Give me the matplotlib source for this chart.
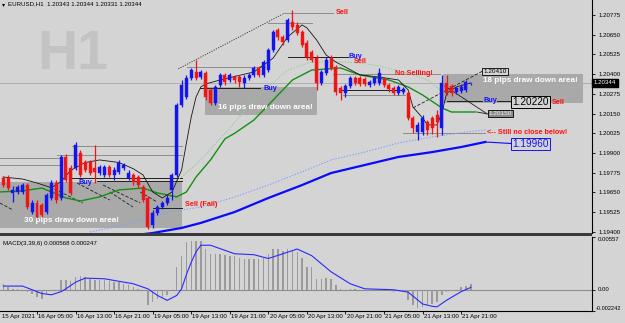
import matplotlib
matplotlib.use("Agg")
import matplotlib.pyplot as plt
from matplotlib.patches import Rectangle
import matplotlib.transforms as mtrans

# ---------------- data ----------------
bars = list(range(-7, 91))
opens = [1.19742, 1.19742, 1.19647, 1.19653, 1.19653, 1.19697, 1.19526, 1.19583, 1.19571, 1.19526,
         1.19615, 1.19710, 1.19615, 1.19875, 1.19805, 1.19805, 1.19900, 1.19843, 1.19843, 1.19805,
         1.19773, 1.19761, 1.19811, 1.19761, 1.19780, 1.19805, 1.19742, 1.19761, 1.19748, 1.19685,
         1.19615, 1.19444, 1.19520, 1.19558, 1.19583, 1.19666, 1.19761, 1.20204, 1.20255, 1.20376,
         1.20414, 1.20382, 1.20407, 1.20300, 1.20217, 1.20331, 1.20395, 1.20363, 1.20382, 1.20382,
         1.20344, 1.20376, 1.20395, 1.20439, 1.20395, 1.20426, 1.20553, 1.20680, 1.20636, 1.20617,
         1.20731, 1.20712, 1.20667, 1.20597, 1.20540, 1.20502, 1.20344, 1.20407, 1.20502, 1.20445,
         1.20312, 1.20280, 1.20325, 1.20376, 1.20376, 1.20369, 1.20331, 1.20344, 1.20344, 1.20369,
         1.20331, 1.20312, 1.20280, 1.20287, 1.20280, 1.20122, 1.20033, 1.20033, 1.20097, 1.20122,
         1.20141, 1.20059, 1.20344, 1.20325, 1.20287, 1.20293, 1.20300, 1.20343]
highs = [1.19754, 1.19761, 1.19691, 1.19697, 1.19710, 1.19710, 1.19602, 1.19602, 1.19583, 1.19647,
         1.19729, 1.19729, 1.19887, 1.19894, 1.19824, 1.19970, 1.19919, 1.19856, 1.19856, 1.19951,
         1.19824, 1.19824, 1.19824, 1.19811, 1.19856, 1.19837, 1.19792, 1.19773, 1.19761, 1.19697,
         1.19628, 1.19539, 1.19571, 1.19596, 1.19634, 1.19773, 1.20217, 1.20363, 1.20395, 1.20439,
         1.20490, 1.20426, 1.20420, 1.20312, 1.20331, 1.20407, 1.20407, 1.20407, 1.20395, 1.20395,
         1.20395, 1.20407, 1.20452, 1.20452, 1.20490, 1.20566, 1.20680, 1.20693, 1.20648, 1.20756,
         1.20807, 1.20731, 1.20680, 1.20617, 1.20553, 1.20521, 1.20426, 1.20509, 1.20521, 1.20458,
         1.20325, 1.20338, 1.20388, 1.20388, 1.20388, 1.20382, 1.20363, 1.20388, 1.20439, 1.20382,
         1.20344, 1.20325, 1.20331, 1.20319, 1.20293, 1.20135, 1.20097, 1.20141, 1.20109, 1.20135,
         1.20173, 1.20395, 1.20395, 1.20338, 1.20319, 1.20338, 1.20363, 1.20344]
lows = [1.19685, 1.19666, 1.19590, 1.19640, 1.19640, 1.19545, 1.19514, 1.19482, 1.19495, 1.19514,
        1.19602, 1.19583, 1.19602, 1.19716, 1.19634, 1.19792, 1.19748, 1.19780, 1.19761, 1.19710,
        1.19761, 1.19748, 1.19748, 1.19729, 1.19767, 1.19792, 1.19729, 1.19697, 1.19678, 1.19590,
        1.19419, 1.19425, 1.19507, 1.19545, 1.19571, 1.19602, 1.19748, 1.20192, 1.20242, 1.20363,
        1.20363, 1.20369, 1.20236, 1.20204, 1.20204, 1.20319, 1.20331, 1.20350, 1.20344, 1.20319,
        1.20312, 1.20363, 1.20382, 1.20382, 1.20382, 1.20414, 1.20540, 1.20617, 1.20585, 1.20604,
        1.20680, 1.20648, 1.20572, 1.20490, 1.20477, 1.20300, 1.20331, 1.20395, 1.20426, 1.20268,
        1.20236, 1.20255, 1.20312, 1.20331, 1.20325, 1.20325, 1.20319, 1.20331, 1.20331, 1.20319,
        1.20287, 1.20268, 1.20268, 1.20274, 1.20109, 1.20027, 1.19983, 1.20014, 1.20014, 1.20021,
        1.20002, 1.20014, 1.20268, 1.20261, 1.20274, 1.20280, 1.20287, 1.20331]
closes = [1.19697, 1.19678, 1.19666, 1.19685, 1.19697, 1.19558, 1.19583, 1.19495, 1.19507, 1.19634,
          1.19710, 1.19602, 1.19875, 1.19729, 1.19647, 1.19951, 1.19761, 1.19792, 1.19773, 1.19780,
          1.19811, 1.19811, 1.19761, 1.19792, 1.19837, 1.19824, 1.19773, 1.19716, 1.19697, 1.19602,
          1.19431, 1.19520, 1.19558, 1.19583, 1.19615, 1.19761, 1.20204, 1.20331, 1.20376, 1.20426,
          1.20376, 1.20414, 1.20255, 1.20217, 1.20319, 1.20395, 1.20350, 1.20395, 1.20363, 1.20350,
          1.20376, 1.20395, 1.20439, 1.20395, 1.20477, 1.20553, 1.20667, 1.20636, 1.20604, 1.20743,
          1.20699, 1.20661, 1.20585, 1.20509, 1.20490, 1.20344, 1.20414, 1.20490, 1.20439, 1.20287,
          1.20280, 1.20325, 1.20376, 1.20344, 1.20338, 1.20338, 1.20350, 1.20376, 1.20407, 1.20331,
          1.20306, 1.20280, 1.20319, 1.20306, 1.20122, 1.20059, 1.20078, 1.20122, 1.20046, 1.20059,
          1.20097, 1.20344, 1.20280, 1.20280, 1.20312, 1.20319, 1.20350, 1.20344]

ma_black_bars = [-7, -3, 0, 3, 5, 7, 10, 13, 17, 20, 22, 24, 26, 28, 30, 31, 32, 33, 34, 35, 38, 45,
                 49, 52, 55, 56, 58, 60, 62, 64, 67, 71, 75, 77, 78, 80, 81, 83, 84, 85, 87, 90]
ma_black = [1.19748, 1.19735, 1.19710, 1.19680, 1.19720, 1.19790, 1.19840, 1.19856, 1.19840, 1.19800,
            1.19761, 1.19653, 1.19615, 1.19653, 1.19792, 1.19964, 1.20128, 1.20255, 1.20319, 1.20338,
            1.20363, 1.20414, 1.20502, 1.20636, 1.20712, 1.20693, 1.20617, 1.20521, 1.20477, 1.20445,
            1.20395, 1.20382, 1.20363, 1.20300, 1.20192, 1.20122, 1.20078, 1.20078, 1.20154, 1.20280,
            1.20319, 1.20344]
ma_green_bars = [-8, -3, 1, 3, 6, 9, 13, 17, 22, 25, 29, 31, 33, 36, 39, 41, 45, 49, 53, 57, 63, 67,
                 73, 77, 80, 84, 86, 91]
ma_green = [1.19653, 1.19660, 1.19678, 1.19653, 1.19615, 1.19596, 1.19622, 1.19666, 1.19678, 1.19647,
            1.19622, 1.19653, 1.19748, 1.19856, 1.19990, 1.20025, 1.20109, 1.20236, 1.20363, 1.20426,
            1.20439, 1.20395, 1.20363, 1.20319, 1.20268, 1.20186, 1.20160, 1.20160]
ma_blue_bars = [19, 24, 30, 34, 41, 48, 55, 61, 68, 75, 82, 88, 93]
ma_blue = [1.19374, 1.19393, 1.19425, 1.19457, 1.19526, 1.19615, 1.19697, 1.19773, 1.19824, 1.19875,
           1.19906, 1.19938, 1.19970]
dot_blue_bars = [11, 17, 25, 30, 34, 41, 48, 57, 61, 68, 75, 82, 89, 93]
dot_blue = [1.19399, 1.19437, 1.19507, 1.19539, 1.19558, 1.19621, 1.19697, 1.19805, 1.19856, 1.19906,
            1.19964, 1.20002, 1.20033, 1.20046]
dot_green_bars = [28, 30, 34, 40, 44, 48, 52, 57, 63, 67, 71, 77, 81, 85]
dot_green = [1.19700, 1.19748, 1.19856, 1.20059, 1.20204, 1.20319, 1.20426, 1.20477, 1.20477, 1.20471,
             1.20452, 1.20407, 1.20363, 1.20268]

macd_hist = [0.00063, 0.00028, 0.00011, 0.00011, 0.0, -0.00025, -0.00042, -0.00077, -0.00095, -0.00042,
             -0.00018, -0.0001, 0.00098, 0.00098, 0.00088, 0.0014, 0.0015, 0.00133, 0.00116, 0.00098,
             0.00098, 0.00098, 0.00088, 0.0008, 0.0008, 0.00063, 0.00053, 0.00028, 0.0001, -0.00007,
             -0.00165, -0.0013, -0.00095, -0.00077, -0.0006, -0.00007, 0.0024, 0.0036, 0.0050, 0.0052,
             0.0052, 0.0052, 0.0043, 0.0038, 0.0038, 0.0038, 0.0037, 0.0036, 0.0036, 0.0034,
             0.0033, 0.0033, 0.0033, 0.0033, 0.0034, 0.0038, 0.0043, 0.0043, 0.0041, 0.0043,
             0.0042, 0.0040, 0.0034, 0.0024, 0.0024, 0.00116, 0.00116, 0.00123, 0.00116, 0.00046,
             0.0001, 0.0, 0.00004, 0.00004, 0.0, 0.0, 0.0, 0.00004, 0.0001, 0.0,
             -0.0001, -0.00025, -0.00007, -0.00018, -0.0011, -0.00165, -0.0019, -0.0018, -0.00165, -0.0015,
             -0.0013, -0.0006, -0.00025, -0.0001, 0.0, 0.00028, 0.00039, 0.000568]
macd_sig_bars = [-7, -3, -1, 1, 3, 5, 6, 8, 10, 14, 20, 23, 25, 27, 29, 30, 31, 32, 33, 34, 36, 41,
                 45, 48, 51, 54, 57, 61, 65, 68, 74, 77, 80, 82, 83, 85, 88, 90]
macd_sig = [0.00039, 0.00039, 0.0, -0.00040, -0.00053, -0.00020, 0.0001, 0.00080, 0.00123, 0.00116,
            0.00063, 0.0001, -0.00060, -0.00112, -0.00060, 0.0001, 0.0016, 0.0029, 0.0040, 0.0047,
            0.0047, 0.0038, 0.0037, 0.0033, 0.0038, 0.0043, 0.0036, 0.0019, 0.00063, 0.0001,
            0.0, -0.00025, -0.0015, -0.00175, -0.0018, -0.0011, -0.0002, 0.000247]

price_ticks = [1.19400, 1.19525, 1.19650, 1.19775, 1.19900, 1.20025, 1.20150, 1.20275, 1.20400,
               1.20525, 1.20650, 1.20775]
time_labels = ["15 Apr 2021", "16 Apr 05:00", "16 Apr 13:00", "16 Apr 21:00", "19 Apr 05:00",
               "19 Apr 13:00", "19 Apr 21:00", "20 Apr 05:00", "20 Apr 13:00", "20 Apr 21:00",
               "21 Apr 05:00", "21 Apr 13:00", "21 Apr 21:00"]
time_label_bars = [-7.6, 0, 8, 16, 24, 32, 40, 48, 56, 64, 72, 80, 88]

# trader's objects (bar, price)
boxes = [(-7.7, 30.1, 1.19425, 1.19716), (34.9, 58.1, 1.20141, 1.20319), (84.2, 113.3, 1.20217, 1.20401)]
box_texts = [(7.1, 1.19470, "30 pips draw down area!"), (47.3, 1.20186, "16 pips draw down area!"),
             (102.3, 1.20357, "18 pips draw down area!")]
hl_gray = [(51.0, 61.4, 1.20788), (47.9, 57.1, 1.20724), (31.1, 47.3, 1.20445), (61.4, 83.6, 1.20401),
           (63.5, 76.3, 1.20268), (75.9, 93.0, 1.20029), (7.3, 30.1, 1.19945), (4.1, 30.1, 1.19887),
           (-7.7, 4.8, 1.19869), (-7.7, 4.8, 1.19824)]
hl_black = [(52.1, 64.5, 1.20509), (33.8, 46.3, 1.20312), (63.0, 76.0, 1.20300), (6.8, 30.1, 1.19742),
            (12.4, 30.1, 1.19723), (24.1, 30.1, 1.19552), (85.1, 92.3, 1.20230), (95.4, 98.6, 1.20230)]
diag_dashed = [(-7.7, 1.19583, -5.0, 1.19539), (2.7, 1.19685, 9.5, 1.19583), (8.3, 1.19710, 15.1, 1.19602),
               (13.7, 1.19697, 21.4, 1.19583), (21.4, 1.19653, 24.9, 1.19590), (15.1, 1.19653, 19.9, 1.19558),
               (78.0, 1.20186, 92.5, 1.20420)]
diag_solid = [(84.6, 1.20325, 93.4, 1.20148), (91.3, 1.20160, 93.4, 1.20148)]
trend_dotted = [(29.3, 1.20433, 51.0, 1.20781)]
notes = [(62.0, 1.20788, "Sell", "#ff1010"), (64.7, 1.20512, "Buy", "#1010ff"),
         (65.8, 1.20477, "Sell", "#ff1010"), (46.9, 1.20312, "Buy", "#1010ff"),
         (74.3, 1.20407, "No Selling!", "#ff1010"), (8.7, 1.19716, "Buy", "#1010ff"),
         (30.7, 1.19571, "Sell (Fail)", "#ff1010"), (92.7, 1.20236, "Buy", "#1010ff"),
         (106.8, 1.20223, "Sell", "#ff1010"), (93.4, 1.20027, "<-- Still no close below!", "#ff1010")]
bid = 1.20344

# ---------------- figure ----------------
W, H = 625, 323
BG = "#d4d4d4"
BLUE = "#1414f0"
RED = "#f01414"
FONT = "Liberation Sans"
fig = plt.figure(figsize=(W / 100, H / 100), dpi=100)
fig.patch.set_facecolor(BG)

XMIN, XMAX = -7.676, 115.15
ax = fig.add_axes([0, 1 - 233 / H, 592 / W, 233 / H])
axm = fig.add_axes([0, 1 - 311 / H, 592 / W, 74 / H])
for a in (ax, axm):
    a.set_facecolor(BG)
    a.set_xlim(XMIN, XMAX)
    for s in ("left", "top", "bottom"):
        a.spines[s].set_visible(False)
    a.spines["right"].set_color("black")
    a.spines["right"].set_linewidth(0.8)
    a.yaxis.tick_right()
    a.tick_params(axis="y", direction="out", length=2, width=0.6, pad=2.5,
                  labelsize=4.4, labelcolor="black")
ax.set_ylim(1.19393, 1.20870)
ax.set_xticks([])
ax.set_yticks(price_ticks)
ax.set_yticklabels([f"{v:.5f}" for v in price_ticks], fontfamily=FONT)

# watermark & title
ax.text(7.4, 1.20521, "H1", fontsize=40, fontweight="bold", family=FONT, color="#c3c3c3",
        ha="center", va="center", zorder=0)
ax.text(0.003, 0.992, "\u25BE", transform=ax.transAxes, fontsize=4.5, va="top", ha="left",
        family="DejaVu Sans")
ax.text(0.013, 0.995, "EURUSD,H1  1.20343 1.20344 1.20331 1.20344", transform=ax.transAxes,
        fontsize=4.4, va="top", ha="left", family=FONT)

# boxes
for x0, x1, y0, y1 in boxes:
    ax.add_patch(Rectangle((x0, y0), x1 - x0, y1 - y0, fc="#a9a9a9", ec="none", zorder=1))
for x, y, label in box_texts:
    ax.text(x, y, label, color="white", fontsize=5.9, fontweight="bold", family=FONT,
            ha="center", va="center", zorder=7)

# lines
ax.axhline(bid, color="#a8a8a8", lw=0.6, zorder=1.5)
for x0, x1, y in hl_gray:
    ax.plot([x0, x1], [y, y], color="#8c8c8c", lw=0.7, zorder=2)
for x0, x1, y in hl_black:
    ax.plot([x0, x1], [y, y], color="#202020", lw=0.7, zorder=2)
for x0, y0, x1, y1 in diag_dashed:
    ax.plot([x0, x1], [y0, y1], color="#202020", lw=0.6, ls=(0, (4, 2)), zorder=2)
for x0, y0, x1, y1 in diag_solid:
    ax.plot([x0, x1], [y0, y1], color="#202020", lw=0.6, zorder=2)
for x0, y0, x1, y1 in trend_dotted:
    ax.plot([x0, x1], [y0, y1], color="#303030", lw=0.6, ls=(0, (1.5, 1.5)), zorder=2)

ax.plot(dot_blue_bars, dot_blue, color="#7f9fff", lw=0.7, ls=(0, (1.5, 1.5)), zorder=2.5)
ax.plot(dot_green_bars, dot_green, color="#8fcf8f", lw=0.7, ls=(0, (1.5, 1.5)), zorder=2.5)
ax.plot(ma_blue_bars, ma_blue, color="#0a0aff", lw=1.6, zorder=3)
ax.plot(ma_green_bars, ma_green, color="#139013", lw=1.0, zorder=3)
ax.plot(ma_black_bars, ma_black, color="#151515", lw=0.6, zorder=3)
ax.plot([93, 98.6], [1.19970, 1.19960], color="#0a0aff", lw=0.8, zorder=3)

# candles
cols = [BLUE if c >= o else RED for o, c in zip(opens, closes)]
body_lo = [min(o, c) for o, c in zip(opens, closes)]
body_h = [max(abs(c - o), 0.00004) for o, c in zip(opens, closes)]
ax.vlines(bars, lows, highs, colors=cols, lw=0.9, zorder=4)
ax.bar(bars, body_h, bottom=body_lo, width=0.62, color=cols, edgecolor=cols, lw=0.3, zorder=5)

# notes
for x, y, t, c in notes:
    ax.text(x, y, t, color=c, fontsize=5.2, fontweight="bold", family=FONT, ha="left",
            va="center", zorder=8)

# price labels
ax.text(95.0, 1.20414, "1.20410", fontsize=4.6, family=FONT, ha="center", va="center", zorder=8,
        bbox=dict(boxstyle="square,pad=0.15", fc=BG, ec="black", lw=0.6))
ax.text(96.1, 1.20148, "1.20150", fontsize=4.6, family=FONT, ha="center", va="center", zorder=8,
        color="#f2f2f2", bbox=dict(boxstyle="square,pad=0.15", fc="#8a8a8a", ec="black", lw=0.6))
ax.text(102.3, 1.20223, "1.20220", fontsize=7.2, family=FONT, ha="center", va="center", zorder=8,
        bbox=dict(boxstyle="square,pad=0.12", fc=BG, ec="black", lw=0.7))
ax.text(102.3, 1.19957, "1.19960", fontsize=7.2, family=FONT, ha="center", va="center", zorder=8,
        color="#1414f0", bbox=dict(boxstyle="square,pad=0.12", fc=BG, ec="#1414f0", lw=0.7))

# current price tag on the axis
tr = mtrans.blended_transform_factory(fig.transFigure, ax.transData)
ax.text(594 / W, bid, "1.20344", transform=tr, fontsize=4.4, family=FONT, color="white",
        ha="left", va="center", zorder=9, clip_on=False,
        bbox=dict(boxstyle="square,pad=0.25", fc="black", ec="black"))

# separators
fig.add_artist(Rectangle((0, 1 - 236 / H), 592 / W, 3 / H, transform=fig.transFigure,
                         fc="#3a3a3a", ec="none"))

# MACD panel
axm.set_ylim(-0.002242, 0.00557)
axm.axhline(0, color="#8c8c8c", lw=0.8, zorder=1)
axm.bar(bars, macd_hist, width=0.3, color="#9a9a9a", zorder=2)
axm.plot(macd_sig_bars, macd_sig, color="#2a2aff", lw=0.8, zorder=3)
axm.set_yticks([-0.002242, 0.0, 0.00557])
axm.set_yticklabels(["", "", ""])
trm = mtrans.blended_transform_factory(axm.transAxes, axm.transData)
axm.text(1.010, 0.00557, "0.00557", transform=trm, fontsize=4.3, family=FONT, va="top", ha="left")
axm.text(1.010, 0.0, "0.00", transform=trm, fontsize=4.3, family=FONT, va="center", ha="left")
axm.text(1.006, -0.002242, "-0.002242", transform=trm, fontsize=4.1, family=FONT, va="bottom",
         ha="left")
axm.text(0.005, 0.95, "MACD(3,39,6) 0.000568 0.000247", transform=axm.transAxes, fontsize=4.4,
         family=FONT, va="top", ha="left")
axm.spines["bottom"].set_visible(True)
axm.spines["bottom"].set_color("black")
axm.spines["bottom"].set_linewidth(0.8)
axm.set_xticks(time_label_bars[1:])
axm.set_xticklabels([])
axm.tick_params(axis="x", direction="out", length=2.5, width=0.6)
trx = mtrans.blended_transform_factory(axm.transData, axm.transAxes)
for k, lab in zip(time_label_bars, time_labels):
    axm.text(k + 0.25, -0.075, lab, transform=trx, fontsize=4.4, family=FONT, ha="left",
             va="center", clip_on=False)

fig.savefig("out.png", dpi=100, facecolor=BG)
